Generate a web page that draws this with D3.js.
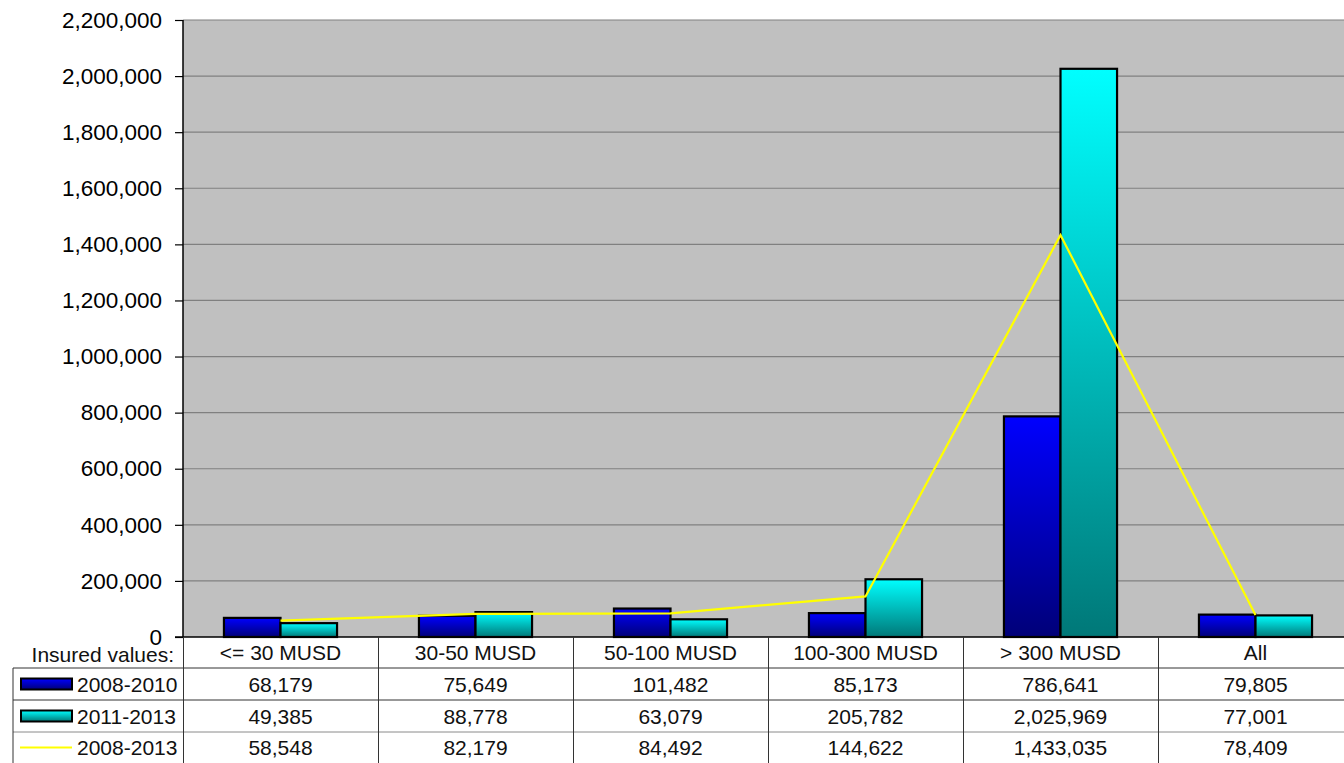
<!DOCTYPE html>
<html>
<head>
<meta charset="utf-8">
<script src="https://cdn.jsdelivr.net/npm/d3@7"></script>
<style>
  html, body { margin: 0; padding: 0; background: #fff; }
  svg { display: block; font-family: "Liberation Sans", Arial, sans-serif; }
</style>
</head>
<body>
<svg id="chart" width="1344" height="763"></svg>
<script>
// Insured value bands and average values per period
const categories = ["<= 30 MUSD", "30-50 MUSD", "50-100 MUSD", "100-300 MUSD", "> 300 MUSD", "All"];
const values2008_2010 = [68179, 75649, 101482, 85173, 786641, 79805];
const values2011_2013 = [49385, 88778, 63079, 205782, 2025969, 77001];
const values2008_2013 = [58548, 82179, 84492, 144622, 1433035, 78409];
const barSeries = ["2008-2010", "2011-2013"];
const lineSeries = "2008-2013";
const yTicks = [0, 200000, 400000, 600000, 800000, 1000000, 1200000, 1400000, 1600000, 1800000, 2000000, 2200000];
const headerLabel = "Insured values:";

const svg = d3.select("#chart");
const W = 1344, H = 763;
const plot = { left: 183, top: 20, bottom: 637, step: 195 };
const fmt = d3.format(",");

const x0 = d3.scaleBand()
  .domain(categories)
  .range([plot.left, plot.left + plot.step * categories.length])
  .padding(0);
const x1 = d3.scaleBand()
  .domain(barSeries)
  .range([x0.bandwidth() * 0.21, x0.bandwidth() * 0.79])
  .padding(0);
const y = d3.scaleLinear().domain([0, 2200000]).range([plot.bottom, plot.top]);

// Gradients for bar fills (bright at top, dark at bottom)
const defs = svg.append("defs");
const grads = [
  { id: "gBlue", top: "#0000ff", bottom: "#000078" },
  { id: "gCyan", top: "#00ffff", bottom: "#007878" }
];
grads.forEach(g => {
  const lg = defs.append("linearGradient").attr("id", g.id)
    .attr("x1", 0).attr("y1", 0).attr("x2", 0).attr("y2", 1);
  lg.append("stop").attr("offset", "0%").attr("stop-color", g.top);
  lg.append("stop").attr("offset", "100%").attr("stop-color", g.bottom);
});
const fills = { "2008-2010": "url(#gBlue)", "2011-2013": "url(#gCyan)" };

// Plot background
svg.append("rect")
  .attr("x", plot.left).attr("y", plot.top)
  .attr("width", W - plot.left).attr("height", plot.bottom - plot.top)
  .attr("fill", "#c0c0c0");

// Gridlines
svg.append("g").selectAll("line")
  .data(yTicks.filter(d => d > 0))
  .join("line")
  .attr("x1", plot.left).attr("x2", W)
  .attr("y1", d => y(d)).attr("y2", d => y(d))
  .attr("stroke", "#808080").attr("stroke-width", 1.2);

// Y axis
const yAxis = d3.axisLeft(y).tickValues(yTicks).tickFormat(fmt).tickSize(8).tickPadding(13);
const gy = svg.append("g").attr("transform", `translate(${plot.left},0)`).call(yAxis);
gy.select(".domain").attr("stroke", "#000").attr("stroke-width", 1.5).attr("d", `M0,${plot.top}V${plot.bottom}`);
gy.selectAll(".tick line").attr("stroke", "#000").attr("stroke-width", 1.2);
gy.selectAll(".tick text")
  .attr("font-size", 22.5).attr("fill", "#000")
  .attr("font-family", "Liberation Sans, Arial, sans-serif");

// Bars
const rows = categories.map((c, i) => ({ cat: c, vals: [values2008_2010[i], values2011_2013[i]] }));
const groups = svg.append("g").selectAll("g")
  .data(rows).join("g")
  .attr("transform", d => `translate(${x0(d.cat)},0)`);
groups.selectAll("rect")
  .data(d => d.vals.map((v, j) => ({ key: barSeries[j], v })))
  .join("rect")
  .attr("x", d => x1(d.key))
  .attr("width", x1.bandwidth())
  .attr("y", d => y(d.v))
  .attr("height", d => y(0) - y(d.v))
  .attr("fill", d => fills[d.key])
  .attr("stroke", "#000").attr("stroke-width", 2.2);

// Line series
const line = d3.line()
  .x((d, i) => x0(categories[i]) + x0.bandwidth() / 2)
  .y(d => y(d));
svg.append("path")
  .datum(values2008_2013)
  .attr("d", line)
  .attr("fill", "none")
  .attr("stroke", "#ffff00")
  .attr("stroke-width", 2.2);

// Baseline
svg.append("line")
  .attr("x1", plot.left - 8).attr("x2", W)
  .attr("y1", plot.bottom).attr("y2", plot.bottom)
  .attr("stroke", "#000").attr("stroke-width", 1.5);

// Data table
const table = svg.append("g");
const rowTops = [637, 668, 700, 732, 763];
const tableLeft = 13;
const rowCenter = i => (rowTops[i] + rowTops[i + 1]) / 2;

// Horizontal rules
table.selectAll("line.h")
  .data([668, 700, 732])
  .join("line")
  .attr("x1", tableLeft).attr("x2", W)
  .attr("y1", d => d).attr("y2", d => d)
  .attr("stroke", (d, i) => i === 2 ? "#8a8a8a" : "#333")
  .attr("stroke-width", 1);
// Left border for series rows
table.append("line")
  .attr("x1", tableLeft).attr("x2", tableLeft)
  .attr("y1", 668).attr("y2", H)
  .attr("stroke", "#333").attr("stroke-width", 1);
// Column separators
table.selectAll("line.v")
  .data(categories)
  .join("line")
  .attr("x1", d => Math.round(x0(d)) + 0.5).attr("x2", d => Math.round(x0(d)) + 0.5)
  .attr("y1", plot.bottom).attr("y2", H)
  .attr("stroke", "#333").attr("stroke-width", 1);

const txt = (sel) => sel.attr("font-size", 21).attr("fill", "#111").attr("dominant-baseline", "central");

// Header row
txt(table.append("text")
  .attr("x", 174).attr("y", rowCenter(0) + 2)
  .attr("text-anchor", "end")
  .text(headerLabel));
txt(table.selectAll("text.cat")
  .data(categories).join("text")
  .attr("x", d => x0(d) + x0.bandwidth() / 2)
  .attr("y", rowCenter(0))
  .attr("text-anchor", "middle")
  .text(d => d));

// Series rows
const tableRows = [
  { name: barSeries[0], vals: values2008_2010, key: "bar", fill: fills[barSeries[0]] },
  { name: barSeries[1], vals: values2011_2013, key: "bar", fill: fills[barSeries[1]] },
  { name: lineSeries, vals: values2008_2013, key: "line" }
];
tableRows.forEach((r, i) => {
  const cy = rowCenter(i + 1);
  if (r.key === "bar") {
    table.append("rect")
      .attr("x", 21).attr("y", cy - 5.5)
      .attr("width", 51).attr("height", 11)
      .attr("fill", r.fill).attr("stroke", "#000").attr("stroke-width", 2);
  } else {
    table.append("line")
      .attr("x1", 20).attr("x2", 72).attr("y1", cy).attr("y2", cy)
      .attr("stroke", "#ffff00").attr("stroke-width", 2);
  }
  txt(table.append("text")
    .attr("x", 77).attr("y", cy)
    .text(r.name));
  txt(table.append("g").selectAll("text")
    .data(r.vals).join("text")
    .attr("x", (d, j) => x0(categories[j]) + x0.bandwidth() / 2)
    .attr("y", cy)
    .attr("text-anchor", "middle")
    .text(d => fmt(d)));
});
</script>
</body>
</html>
